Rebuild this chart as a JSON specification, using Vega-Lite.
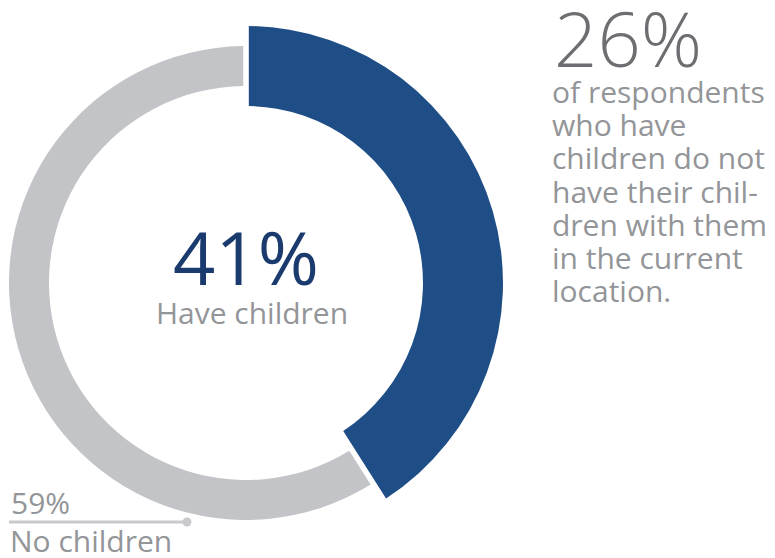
{
  "$schema": "https://vega.github.io/schema/vega-lite/v6.json",
  "width": 492,
  "height": 550,
  "autosize": {"type": "none"},
  "padding": {"left": 0, "top": 8, "right": 283, "bottom": 0},
  "background": "white",
  "config": {"view": {"stroke": null}, "font": "Open Sans"},
  "data": {"values": [
    {"group": "Have children", "pct": 41},
    {"group": "No children", "pct": 59}
  ]},
  "layer": [
    {
      "mark": {"type": "arc", "outerRadius": 257, "innerRadius": 177, "padAngle": 0.018},
      "encoding": {
        "theta": {"field": "pct", "type": "quantitative", "stack": true},
        "order": {"field": "group", "type": "nominal", "sort": "ascending"},
        "color": {"field": "group", "type": "nominal", "legend": null,
          "scale": {"domain": ["Have children", "No children"], "range": ["#1F4E87", "rgba(255,255,255,0)"]}}
      }
    },
    {
      "mark": {"type": "arc", "outerRadius": 237, "innerRadius": 197, "padAngle": 0.018},
      "encoding": {
        "theta": {"field": "pct", "type": "quantitative", "stack": true},
        "order": {"field": "group", "type": "nominal", "sort": "ascending"},
        "color": {"field": "group", "type": "nominal", "legend": null,
          "scale": {"domain": ["Have children", "No children"], "range": ["rgba(255,255,255,0)", "#C3C4C8"]}}
      }
    },
    {
      "data": {"values": [{"group": "Have children", "label": "41%"}]},
      "mark": {"type": "text", "align": "center", "baseline": "alphabetic", "dy": 2, "fontSize": 74, "fontWeight": 400, "color": "#1B3B6F"},
      "encoding": {"text": {"field": "label", "type": "nominal"}}
    },
    {
      "data": {"values": [{"group": "Have children", "label": "41%"}]},
      "mark": {"type": "text", "align": "center", "baseline": "alphabetic", "dx": 6, "dy": 41, "fontSize": 30, "color": "#939598"},
      "encoding": {"text": {"field": "group", "type": "nominal"}}
    },
    {
      "data": {"values": [{"group": "No children", "label": "59%"}]},
      "mark": {"type": "text", "align": "left", "baseline": "alphabetic", "dx": -235, "dy": 231, "fontSize": 30, "color": "#939598"},
      "encoding": {"text": {"field": "label", "type": "nominal"}}
    },
    {
      "data": {"values": [{"group": "No children", "label": "59%"}]},
      "mark": {"type": "text", "align": "left", "baseline": "alphabetic", "dx": -236, "dy": 269, "fontSize": 30, "color": "#939598"},
      "encoding": {"text": {"field": "group", "type": "nominal"}}
    },
    {
      "data": {"values": [{}]},
      "mark": {"type": "rule", "color": "#C8C9CC", "strokeWidth": 3},
      "encoding": {"x": {"value": 9}, "x2": {"value": 187}, "y": {"value": 514}, "y2": {"value": 514}}
    },
    {
      "data": {"values": [{}]},
      "mark": {"type": "point", "filled": true, "size": 80, "opacity": 1, "color": "#C8C9CC"},
      "encoding": {"x": {"value": 187}, "y": {"value": 514}}
    },
    {
      "data": {"values": [{}]},
      "mark": {"type": "text", "text": "26%", "align": "left", "baseline": "alphabetic", "dx": 308, "dy": -216, "fontSize": 76, "fontWeight": 300, "color": "#6D6E71"},
      "encoding": {}
    },
    {
      "data": {"values": [{}]},
      "mark": {"type": "text", "text": ["of respondents", "who have", "children do not", "have their chil-", "dren with them", "in the current", "location."], "align": "left", "baseline": "alphabetic", "dx": 306, "dy": -180, "lineHeight": 33.2, "fontSize": 30, "color": "#939598"},
      "encoding": {}
    }
  ],
  "resolve": {"scale": {"color": "independent"}}
}
